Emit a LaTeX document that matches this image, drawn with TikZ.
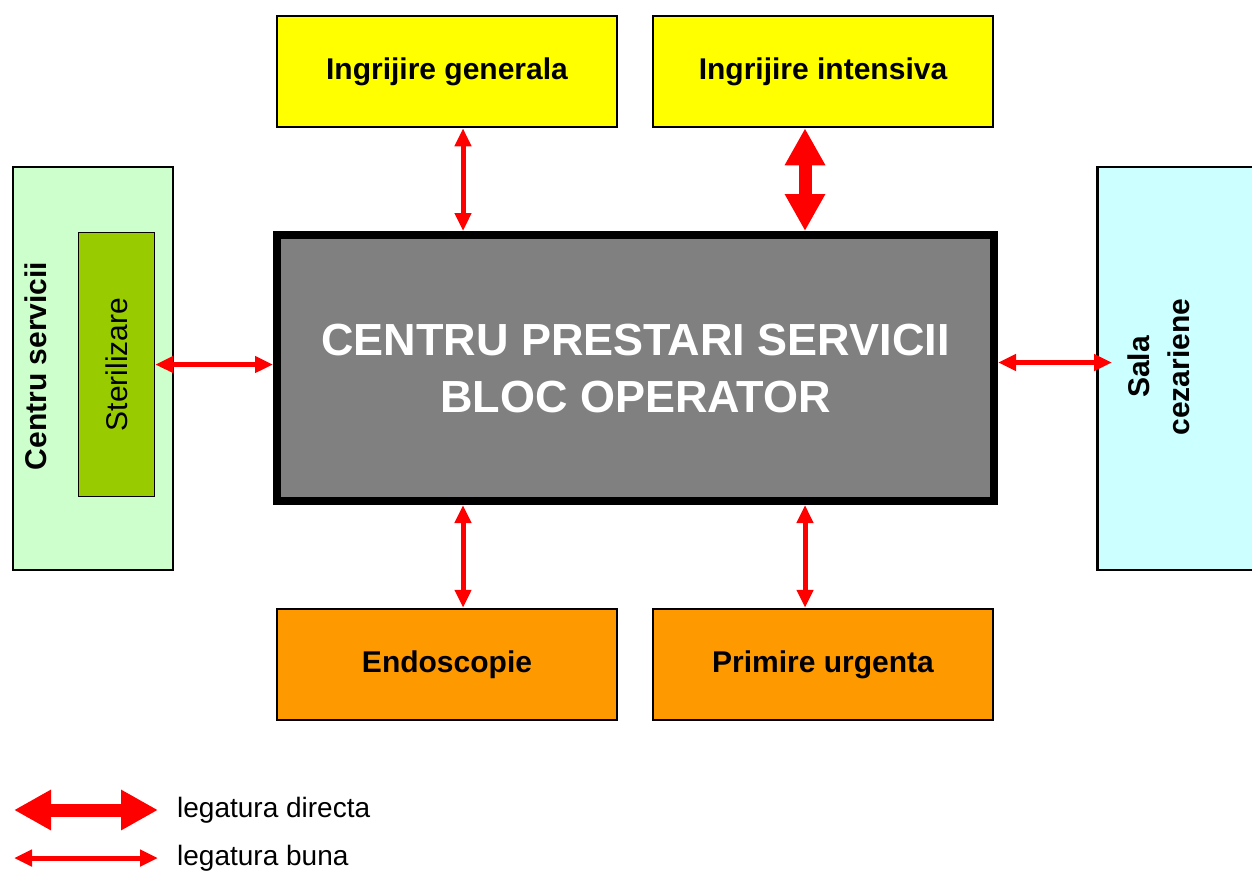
\documentclass[tikz,border=0pt]{standalone}
\usepackage{fontspec}
\setmainfont{Liberation Sans}
\usetikzlibrary{arrows.meta}
\definecolor{cyel}{HTML}{FFFF00}
\definecolor{corg}{HTML}{FF9900}
\definecolor{cgray}{HTML}{808080}
\definecolor{clgreen}{HTML}{CCFFCC}
\definecolor{cgreen}{HTML}{99CC00}
\definecolor{clcyan}{HTML}{CCFFFF}
\definecolor{cred}{HTML}{FF0000}
\tikzset{
  box/.style={draw=black, line width=2.5pt, minimum width=340pt, minimum height=111pt, inner sep=0pt,
    font=\bfseries\fontsize{30}{36}\selectfont},
  thinarr/.style={draw=cred, line width=5pt, {Triangle[width=16pt,length=18pt]}-{Triangle[width=16pt,length=18pt]}},
  thickarr/.style={draw=cred, line width=13pt, {Triangle[width=38pt,length=37pt]}-{Triangle[width=38pt,length=37pt]}},
  vtext/.style={font=\bfseries\fontsize{30}{40}\selectfont, rotate=90, align=center, inner sep=0pt},
}
\begin{document}
\begin{tikzpicture}[x=1pt, y=-1pt]
\useasboundingbox (0,0) rectangle (1252,871);
% top boxes
\node[box, fill=cyel] (gen) at (447,71.5) {Ingrijire generala};
\node[box, fill=cyel] (int) at (823,71.5) {Ingrijire intensiva};
% bottom boxes
\node[box, fill=corg] (endo) at (447,664.5) {Endoscopie};
\node[box, fill=corg] (prim) at (823,664.5) {Primire urgenta};
% main
\node[draw=black, fill=cgray, line width=8pt, minimum width=717pt, minimum height=266pt, inner sep=0pt,
  text=white, align=center, font=\bfseries\fontsize{45}{57}\selectfont] (main) at (635.5,368)
  {CENTRU PRESTARI SERVICII\\BLOC OPERATOR};
% left
\node[draw=black, fill=clgreen, line width=2.5pt, minimum width=160pt, minimum height=403pt, inner sep=0pt] (cs) at (93,368.5) {};
\node[vtext] (cstext) at (36,366) {Centru servicii};
\node[draw=black, fill=cgreen, line width=1.5pt, minimum width=76pt, minimum height=264pt, inner sep=0pt,
  font=\fontsize{30}{36}\selectfont] (ster) at (116.5,364.5) {\rotatebox{90}{Sterilizare}};
% right
\node[draw=black, fill=clcyan, line width=2.5pt, minimum width=200pt, minimum height=403pt, inner sep=0pt, anchor=west] (sala) at (1096,368.5) {};
\node[vtext] (salatext) at (1159,367) {Sala\\cezariene};
% connectors
\draw[thinarr] ([xshift=16pt]gen.south) -- ([xshift=16pt]gen.south |- main.north);
\draw[thickarr] ([xshift=-18pt]int.south) -- ([xshift=-18pt]int.south |- main.north);
\draw[thinarr] ([xshift=16pt]endo.north) -- ([xshift=16pt]endo.north |- main.south);
\draw[thinarr] ([xshift=-18pt]prim.north) -- ([xshift=-18pt]prim.north |- main.south);
\draw[thinarr] (ster.east) -- (ster.east -| main.west);
\draw[thinarr] ([yshift=5.5pt]main.east) -- ([xshift=16pt,yshift=5.5pt]main.east -| sala.west);
% legend
\coordinate (l1a) at (14,810);
\coordinate (l1b) at (158,810);
\coordinate (l2a) at (14,858);
\coordinate (l2b) at (158,858);
\draw[thickarr] (l1a) -- (l1b);
\draw[thinarr] (l2a) -- (l2b);
\node[anchor=west, inner sep=0pt, font=\fontsize{28}{34}\selectfont] (leg1) at (177,810) {legatura directa};
\node[anchor=west, inner sep=0pt, font=\fontsize{28}{34}\selectfont] (leg2) at (177,858) {legatura buna};
\end{tikzpicture}
\end{document}
